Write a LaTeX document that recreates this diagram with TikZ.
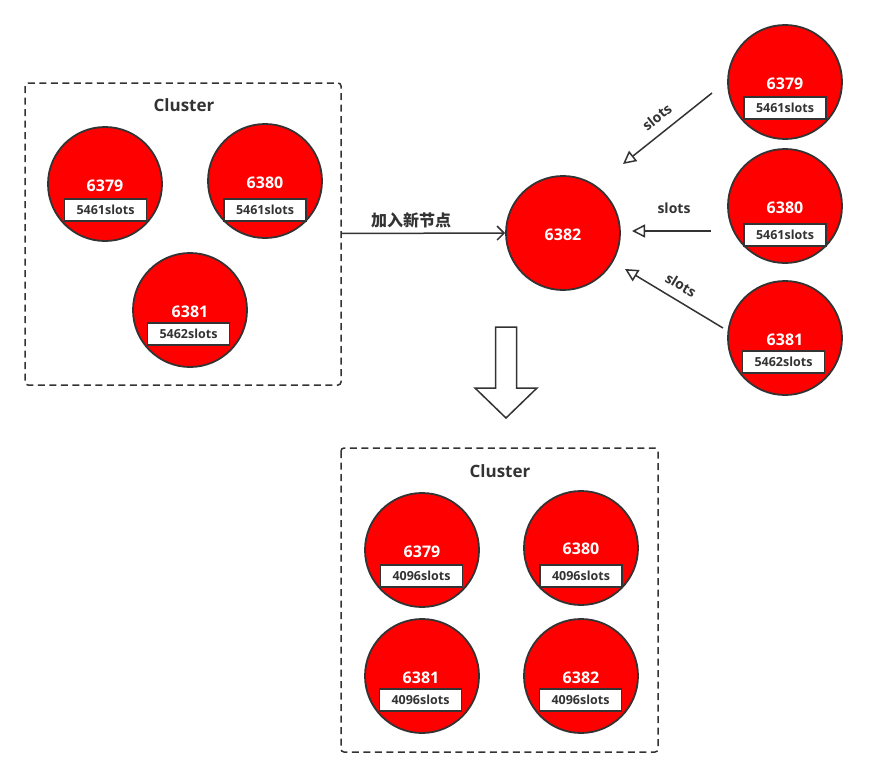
\documentclass[tikz,border=0pt]{standalone}
\usepackage{fontspec}
\setmainfont{Open Sans}
\newfontfamily\cjk{Noto Sans CJK SC}
\usetikzlibrary{arrows.meta,calc}
\definecolor{dk}{HTML}{333333}
\definecolor{rd}{HTML}{FF0000}
\tikzset{
  redis/.style={circle,draw=dk,line width=1.8pt,fill=rd,minimum size=114pt,inner sep=0pt},
  num/.style={text=white,font=\bfseries\fontsize{16}{16}\selectfont,inner sep=0pt},
  slotbox/.style={draw=dk,line width=1.8pt,fill=white,minimum width=82pt,minimum height=22pt,inner sep=0pt,text=dk,font=\fontsize{12.5}{12.5}\selectfont\bfseries},
  clusterbox/.style={draw=dk,line width=1.5pt,dash pattern=on 7pt off 4.5pt,rounded corners=3pt},
  ctitle/.style={text=dk,font=\bfseries\fontsize{17}{17}\selectfont,inner sep=0pt},
  lbl/.style={text=dk,font=\bfseries\fontsize{14}{14}\selectfont,inner sep=0pt},
  conn/.style={draw=dk,line width=1.5pt},
  openhead/.style={conn,-{Triangle[open,length=13pt,width=13pt,line width=1.5pt]}},
}
\begin{document}
\begin{tikzpicture}[x=1pt,y=-1pt]
\useasboundingbox (0,0) rectangle (870,776);
% left cluster
\draw[clusterbox] (25,83) rectangle (341,385);
\node[ctitle] (t1) at (184,105) {Cluster};
\node[redis] (a1) at (105,184) {};
\node[num] (a1n) at (105,186) {6379};
\node[slotbox] (a1s) at (105.5,210) {5461slots};
\node[redis] (a2) at (265,181) {};
\node[num] (a2n) at (265,183) {6380};
\node[slotbox] (a2s) at (265,210) {5461slots};
\node[redis] (a3) at (190,310) {};
\node[num] (a3n) at (190,312) {6381};
\node[slotbox] (a3s) at (188.5,334) {5462slots};
% new node
\node[redis] (n) at (563,233) {};
\node[num] (nn) at (563,235) {6382};
\coordinate (jstart) at (341,233.5);
\draw[conn,-{Straight Barb[length=7pt,width=14pt,line width=1.5pt]}] (jstart) -- (n.west);
\node[lbl,font=\cjk\bfseries\fontsize{16}{16}\selectfont] (jl) at (411,220) {加入新节点};
% right
\node[redis] (b1) at (785,82) {};
\node[num] (b1n) at (785,84) {6379};
\node[slotbox] (b1s) at (785,108) {5461slots};
\node[redis] (b2) at (785,206) {};
\node[num] (b2n) at (785,208) {6380};
\node[slotbox] (b2s) at (785,235) {5461slots};
\node[redis] (b3) at (785,338) {};
\node[num] (b3n) at (785,340) {6381};
\node[slotbox] (b3s) at (783.5,362) {5462slots};
\coordinate (s1) at (712,93);  \coordinate (e1) at (623,164);
\coordinate (s2) at (711,231); \coordinate (e2) at (632,231);
\coordinate (s3) at (723,328); \coordinate (e3) at (625,269);
\draw[openhead] (s1) -- (e1);
\draw[openhead] (s2) -- (e2);
\draw[openhead] (s3) -- (e3);
\node[lbl,rotate=38.6] (l1) at (657,117) {slots};
\node[lbl] (l2) at (674,208) {slots};
\node[lbl,rotate=-31] (l3) at (681,285) {slots};
% big arrow
\draw[draw=dk,line width=1.5pt,fill=white] (495.5,327) -- (516.5,327) -- (516.5,388) -- (537,388) -- (506,418) -- (475,388) -- (495.5,388) -- cycle;
% bottom cluster
\draw[clusterbox] (341,448) rectangle (658,752);
\node[ctitle] (t2) at (500,471) {Cluster};
\node[redis] (c1) at (422,550) {};
\node[num] (c1n) at (422,552) {6379};
\node[slotbox] (c1s) at (421.5,576) {4096slots};
\node[redis] (c2) at (581,548) {};
\node[num] (c2n) at (581,549) {6380};
\node[slotbox] (c2s) at (581,576) {4096slots};
\node[redis] (c3) at (422,676) {};
\node[num] (c3n) at (421,678) {6381};
\node[slotbox] (c3s) at (420.5,700) {4096slots};
\node[redis] (c4) at (581,676) {};
\node[num] (c4n) at (581,678) {6382};
\node[slotbox] (c4s) at (580.5,700) {4096slots};
\end{tikzpicture}
\end{document}
